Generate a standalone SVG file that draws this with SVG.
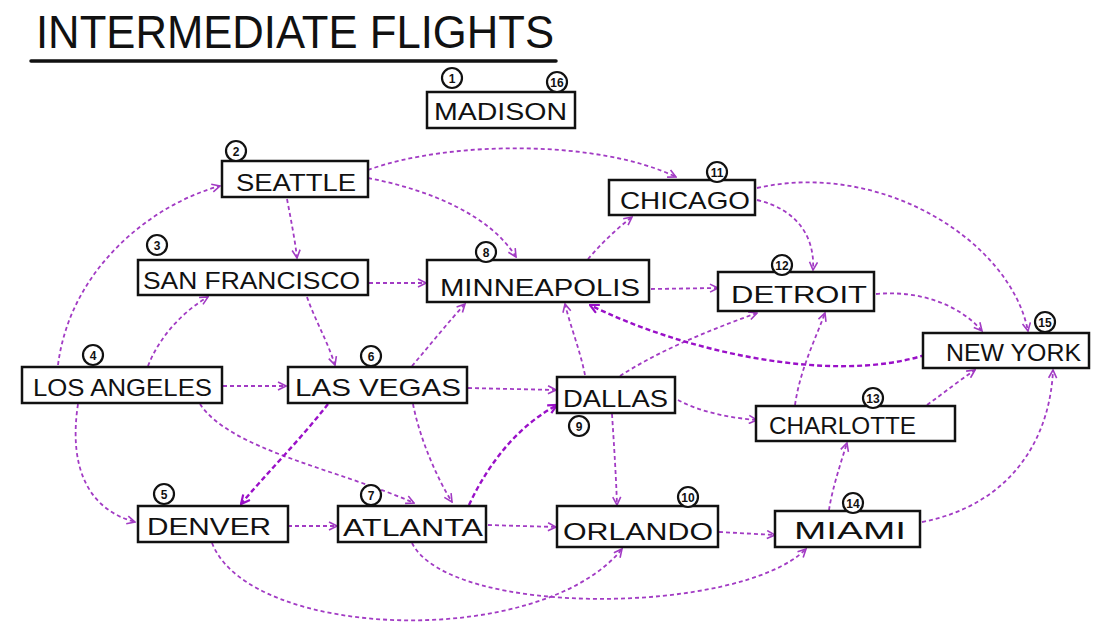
<svg xmlns="http://www.w3.org/2000/svg" width="1107" height="641" viewBox="0 0 1107 641">
<defs>
<marker id="ah" viewBox="0 0 10 10" refX="9" refY="5" markerWidth="10" markerHeight="10" markerUnits="userSpaceOnUse" orient="auto">
<path d="M1,1 L9,5 L1,9" fill="none" stroke="#a23bc4" stroke-width="1.6"/>
</marker>
<marker id="ahb" viewBox="0 0 10 10" refX="9" refY="5" markerWidth="11" markerHeight="11" markerUnits="userSpaceOnUse" orient="auto">
<path d="M1,1 L9,5 L1,9" fill="none" stroke="#9a10c8" stroke-width="2"/>
</marker>
</defs>
<style>
.box{fill:#fff;stroke:#111;stroke-width:2.5}
.lbl{font-family:"Liberation Sans",Arial,sans-serif;font-size:24px;fill:#111}
.badge circle{fill:#fff;stroke:#111;stroke-width:2.2}
.badge text{font-family:"Liberation Sans",Arial,sans-serif;font-size:12px;font-weight:bold;fill:#111;text-anchor:middle}
.e{fill:none;stroke:#a23bc4;stroke-width:1.8;stroke-dasharray:4 3;marker-end:url(#ah)}
.eb{fill:none;stroke:#9a10c8;stroke-width:2.4;stroke-dasharray:5 3;marker-end:url(#ahb)}
.title{font-family:"Liberation Sans",Arial,sans-serif;font-size:46px;fill:#111}
</style>
<rect width="1107" height="641" fill="#fff"/>
<g id="title">
<text class="title" x="36" y="48" textLength="518" lengthAdjust="spacingAndGlyphs">INTERMEDIATE FLIGHTS</text>
<line x1="31" y1="61" x2="556" y2="61" stroke="#111" stroke-width="3.5" stroke-linecap="round"/>
</g>
<g id="connectors">
<path class="e" d="M368,170 C450,140 600,140 676,177"/>
<path class="e" d="M368,178 C430,190 490,215 516,257"/>
<path class="e" d="M287,199 C291,220 295,240 297,258"/>
<path class="e" d="M58,365 C70,270 150,205 220,186"/>
<path class="e" d="M148,366 C160,335 185,310 208,297"/>
<path class="e" d="M223,386 L286,386"/>
<path class="e" d="M78,404 C68,470 90,510 135,522"/>
<path class="e" d="M200,404 C230,450 340,470 414,503"/>
<path class="e" d="M369,283 L426,283"/>
<path class="e" d="M307,297 C315,320 327,340 335,365"/>
<path class="e" d="M412,366 C430,345 450,320 465,304"/>
<path class="e" d="M468,388 L556,390"/>
<path class="eb" d="M328,404 C300,440 265,475 241,504"/>
<path class="e" d="M413,404 C420,440 438,480 452,502"/>
<path class="eb" d="M469,505 C490,460 520,425 557,405"/>
<path class="e" d="M288,526 L337,526"/>
<path class="e" d="M488,525 L556,527"/>
<path class="e" d="M212,543 C250,640 540,650 622,549"/>
<path class="e" d="M412,543 C450,618 740,615 806,549"/>
<path class="e" d="M585,375 C580,350 570,325 565,304"/>
<path class="e" d="M620,376 C660,350 710,330 757,313"/>
<path class="e" d="M678,400 C700,412 730,418 757,420"/>
<path class="e" d="M612,414 C614,445 616,475 617,505"/>
<path class="e" d="M588,259 C600,245 615,230 632,217"/>
<path class="e" d="M651,289 L718,288"/>
<path class="e" d="M757,200 C800,210 815,240 813,270"/>
<path class="e" d="M757,188 C880,160 1010,240 1028,331"/>
<path class="e" d="M876,294 C920,290 960,305 982,331"/>
<path class="eb" d="M925,355 C830,385 680,350 590,305"/>
<path class="e" d="M795,405 C800,370 815,340 825,313"/>
<path class="e" d="M927,405 C945,392 960,380 975,370"/>
<path class="e" d="M719,532 L775,535"/>
<path class="e" d="M829,510 C832,490 840,465 847,443"/>
<path class="e" d="M922,522 C1010,505 1050,440 1053,370"/>
</g>
<g id="madison">
<rect class="box" x="427" y="92" width="148" height="36"/>
<text class="lbl" x="434" y="120" textLength="133" lengthAdjust="spacingAndGlyphs">MADISON</text>
<g class="badge"><circle cx="452" cy="78" r="10"/><text x="452" y="82.5">1</text></g>
<g class="badge"><circle cx="557" cy="82" r="10"/><text x="557" y="86.5">16</text></g>
</g>
<g id="seattle">
<rect class="box" x="222" y="161" width="146" height="36"/>
<text class="lbl" x="236" y="191" textLength="120" lengthAdjust="spacingAndGlyphs">SEATTLE</text>
<g class="badge"><circle cx="236" cy="151" r="10"/><text x="236" y="155.5">2</text></g>
</g>
<g id="sanfrancisco">
<rect class="box" x="138" y="260" width="230" height="35"/>
<text class="lbl" x="143" y="289" textLength="217" lengthAdjust="spacingAndGlyphs">SAN FRANCISCO</text>
<g class="badge"><circle cx="157" cy="245" r="10"/><text x="157" y="249.5">3</text></g>
</g>
<g id="minneapolis">
<rect class="box" x="427" y="260" width="222" height="42"/>
<text class="lbl" x="440" y="296" textLength="200" lengthAdjust="spacingAndGlyphs">MINNEAPOLIS</text>
<g class="badge"><circle cx="486" cy="252" r="10"/><text x="486" y="256.5">8</text></g>
</g>
<g id="chicago">
<rect class="box" x="609" y="180" width="146" height="35"/>
<text class="lbl" x="620" y="209" textLength="130" lengthAdjust="spacingAndGlyphs">CHICAGO</text>
<g class="badge"><circle cx="717" cy="172" r="10"/><text x="717" y="176.5">11</text></g>
</g>
<g id="detroit">
<rect class="box" x="718" y="272" width="156" height="39"/>
<text class="lbl" x="731" y="303" textLength="136" lengthAdjust="spacingAndGlyphs">DETROIT</text>
<g class="badge"><circle cx="782" cy="265" r="10"/><text x="782" y="269.5">12</text></g>
</g>
<g id="newyork">
<rect class="box" x="923" y="333" width="166" height="35"/>
<text class="lbl" x="946" y="361" textLength="135" lengthAdjust="spacingAndGlyphs">NEW YORK</text>
<g class="badge"><circle cx="1045" cy="322" r="10"/><text x="1045" y="326.5">15</text></g>
</g>
<g id="losangeles">
<rect class="box" x="22" y="367" width="200" height="36"/>
<text class="lbl" x="33" y="396" textLength="179" lengthAdjust="spacingAndGlyphs">LOS ANGELES</text>
<g class="badge"><circle cx="93" cy="355" r="10"/><text x="93" y="359.5">4</text></g>
</g>
<g id="lasvegas">
<rect class="box" x="288" y="367" width="179" height="36"/>
<text class="lbl" x="295" y="396" textLength="166" lengthAdjust="spacingAndGlyphs">LAS  VEGAS</text>
<g class="badge"><circle cx="371" cy="356" r="10"/><text x="371" y="360.5">6</text></g>
</g>
<g id="dallas">
<rect class="box" x="557" y="377" width="118" height="36"/>
<text class="lbl" x="563" y="407" textLength="105" lengthAdjust="spacingAndGlyphs">DALLAS</text>
<g class="badge"><circle cx="579" cy="426" r="10"/><text x="579" y="430.5">9</text></g>
</g>
<g id="charlotte">
<rect class="box" x="756" y="406" width="199" height="35"/>
<text class="lbl" x="769" y="434" textLength="147" lengthAdjust="spacingAndGlyphs">CHARLOTTE</text>
<g class="badge"><circle cx="873" cy="398" r="10"/><text x="873" y="402.5">13</text></g>
</g>
<g id="denver">
<rect class="box" x="138" y="506" width="150" height="36"/>
<text class="lbl" x="147" y="535" textLength="124" lengthAdjust="spacingAndGlyphs">DENVER</text>
<g class="badge"><circle cx="164" cy="494" r="10"/><text x="164" y="498.5">5</text></g>
</g>
<g id="atlanta">
<rect class="box" x="338" y="506" width="148" height="36"/>
<text class="lbl" x="343" y="536" textLength="140" lengthAdjust="spacingAndGlyphs">ATLANTA</text>
<g class="badge"><circle cx="371" cy="495" r="10"/><text x="371" y="499.5">7</text></g>
</g>
<g id="orlando">
<rect class="box" x="557" y="506" width="161" height="41"/>
<text class="lbl" x="563" y="540" textLength="150" lengthAdjust="spacingAndGlyphs">ORLANDO</text>
<g class="badge"><circle cx="688" cy="497" r="10"/><text x="688" y="501.5">10</text></g>
</g>
<g id="miami">
<rect class="box" x="775" y="511" width="145" height="36"/>
<text class="lbl" x="794" y="539" textLength="112" lengthAdjust="spacingAndGlyphs">MIAMI</text>
<g class="badge"><circle cx="853" cy="503" r="10"/><text x="853" y="507.5">14</text></g>
</g>
</svg>
